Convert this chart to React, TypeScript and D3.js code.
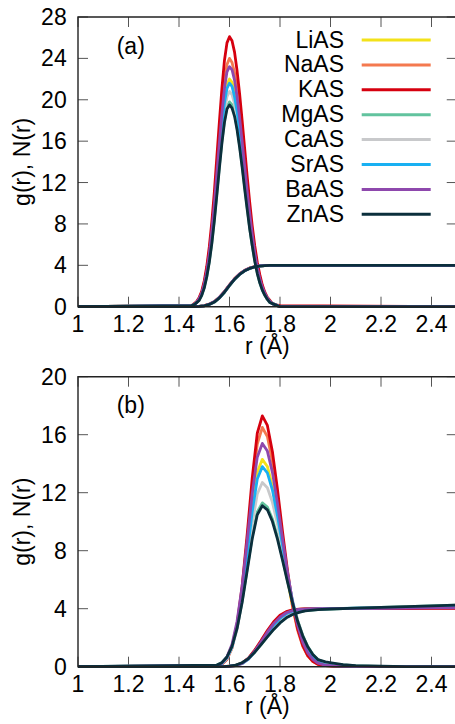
import React from "react";
import * as d3 from "d3";

const SERIES = ["LiAS", "NaAS", "KAS", "MgAS", "CaAS", "SrAS", "BaAS", "ZnAS"];
const COLORS = ["#f3e21a", "#f4794f", "#d6000f", "#62c39e", "#c8c9cb", "#18b0f2", "#8e48ad", "#0b2f3c"];

const X_TICKS = [1, 1.2, 1.4, 1.6, 1.8, 2, 2.2, 2.4];
const Y_TICKS_A = [0, 4, 8, 12, 16, 20, 24, 28];
const Y_TICKS_B = [0, 4, 8, 12, 16, 20];

// ---------- panel (a) ----------
const rA_g = [1.0, 1.45, 1.46, 1.47, 1.48, 1.49, 1.5, 1.51, 1.52, 1.53, 1.54, 1.55, 1.56, 1.57, 1.58, 1.59, 1.6,
  1.61, 1.62, 1.63, 1.64, 1.65, 1.66, 1.67, 1.68, 1.69, 1.7, 1.71, 1.72, 1.73, 1.74, 1.75, 1.76, 1.77, 1.78, 1.8, 2.5];
const gA_Li = [0, 0.1, 0.2, 0.4, 0.7, 1.3, 2.1, 3.3, 4.9, 6.9, 9.4, 12.2, 15.1, 17.8, 20.0, 21.5, 22.0, 21.7, 20.7, 19.3, 17.3, 15.2, 12.9, 10.6, 8.5, 6.6, 5.0, 3.6, 2.6, 1.8, 1.2, 0.8, 0.5, 0.3, 0.2, 0.0, 0];
const gA_Na = [0, 0.1, 0.2, 0.4, 0.8, 1.4, 2.3, 3.6, 5.3, 7.5, 10.2, 13.3, 16.4, 19.4, 21.8, 23.4, 24.0, 23.6, 22.6, 21.0, 18.9, 16.6, 14.1, 11.6, 9.3, 7.2, 5.4, 4.0, 2.8, 1.9, 1.3, 0.8, 0.5, 0.3, 0.2, 0.0, 0];
const gA_K = [0, 0.1, 0.3, 0.5, 0.9, 1.5, 2.5, 3.9, 5.8, 8.2, 11.1, 14.5, 17.9, 21.1, 23.8, 25.5, 26.1, 25.7, 24.6, 22.8, 20.6, 18.0, 15.3, 12.6, 10.1, 7.8, 5.9, 4.3, 3.1, 2.1, 1.4, 0.9, 0.6, 0.3, 0.2, 0.1, 0];
const gA_Mg = [0, 0.1, 0.2, 0.4, 0.7, 1.1, 1.9, 2.9, 4.4, 6.2, 8.5, 11.0, 13.6, 16.0, 18.0, 19.3, 19.8, 19.5, 18.7, 17.3, 15.6, 13.7, 11.6, 9.6, 7.6, 5.9, 4.5, 3.3, 2.3, 1.6, 1.1, 0.7, 0.4, 0.3, 0.2, 0.0, 0];
const gA_Ca = [0, 0.1, 0.2, 0.4, 0.7, 1.2, 2.0, 3.1, 4.6, 6.5, 8.9, 11.5, 14.2, 16.8, 18.9, 20.3, 20.8, 20.5, 19.6, 18.2, 16.4, 14.4, 12.2, 10.0, 8.0, 6.2, 4.7, 3.4, 2.5, 1.7, 1.1, 0.7, 0.5, 0.3, 0.2, 0.0, 0];
const gA_Sr = [0, 0.1, 0.2, 0.4, 0.7, 1.2, 2.0, 3.2, 4.8, 6.8, 9.2, 12.0, 14.8, 17.5, 19.7, 21.1, 21.6, 21.3, 20.3, 18.9, 17.0, 14.9, 12.7, 10.4, 8.3, 6.5, 4.9, 3.6, 2.5, 1.7, 1.2, 0.8, 0.5, 0.3, 0.2, 0.0, 0];
const gA_Ba = [0, 0.1, 0.2, 0.4, 0.8, 1.3, 2.2, 3.4, 5.1, 7.3, 9.9, 12.9, 15.9, 18.7, 21.1, 22.7, 23.2, 22.9, 21.9, 20.3, 18.3, 16.0, 13.6, 11.2, 9.0, 7.0, 5.2, 3.8, 2.7, 1.9, 1.3, 0.8, 0.5, 0.3, 0.2, 0.0, 0];
const gA_Zn = [0, 0.1, 0.2, 0.4, 0.6, 1.1, 1.8, 2.9, 4.3, 6.1, 8.3, 10.8, 13.4, 15.8, 17.8, 19.1, 19.5, 19.2, 18.4, 17.1, 15.4, 13.5, 11.4, 9.4, 7.5, 5.9, 4.4, 3.2, 2.3, 1.6, 1.1, 0.7, 0.4, 0.3, 0.2, 0.0, 0];

const rA_n = [1.0, 1.44, 1.46, 1.48, 1.5, 1.52, 1.54, 1.56, 1.58, 1.6, 1.62, 1.64, 1.66, 1.68, 1.7, 1.72, 1.74, 1.76, 1.8, 2.5];
const nA_Li = [0, 0, 0.01, 0.03, 0.09, 0.23, 0.47, 0.88, 1.43, 2.07, 2.67, 3.14, 3.49, 3.72, 3.86, 3.94, 3.98, 3.99, 4.0, 4.0];
const nA_Na = [0, 0, 0.01, 0.04, 0.1, 0.24, 0.49, 0.9, 1.45, 2.09, 2.69, 3.16, 3.5, 3.73, 3.87, 3.94, 3.98, 3.99, 4.0, 4.0];
const nA_K = [0, 0, 0.01, 0.04, 0.1, 0.25, 0.5, 0.91, 1.46, 2.1, 2.7, 3.17, 3.51, 3.73, 3.87, 3.95, 3.98, 4.0, 4.0, 4.0];
const nA_Mg = [0, 0, 0.01, 0.03, 0.08, 0.21, 0.44, 0.84, 1.39, 2.04, 2.64, 3.12, 3.47, 3.7, 3.85, 3.93, 3.97, 3.99, 4.0, 4.0];
const nA_Ca = [0, 0, 0.01, 0.03, 0.08, 0.22, 0.46, 0.86, 1.41, 2.05, 2.65, 3.13, 3.48, 3.71, 3.85, 3.93, 3.97, 3.99, 4.0, 4.0];
const nA_Sr = [0, 0, 0.01, 0.03, 0.09, 0.23, 0.47, 0.87, 1.42, 2.06, 2.66, 3.13, 3.48, 3.71, 3.86, 3.94, 3.97, 3.99, 4.0, 4.0];
const nA_Ba = [0, 0, 0.01, 0.04, 0.09, 0.24, 0.48, 0.89, 1.44, 2.08, 2.68, 3.15, 3.49, 3.72, 3.86, 3.94, 3.98, 3.99, 4.0, 4.0];
const nA_Zn = [0, 0, 0.01, 0.03, 0.08, 0.22, 0.45, 0.85, 1.4, 2.05, 2.65, 3.12, 3.47, 3.7, 3.85, 3.93, 3.97, 3.99, 4.0, 4.0];

// ---------- panel (b) ----------
const rB_g = [1.0, 1.55, 1.57, 1.59, 1.61, 1.63, 1.65, 1.67, 1.69, 1.71, 1.73, 1.75, 1.77, 1.79, 1.81, 1.83, 1.85,
  1.87, 1.89, 1.91, 1.93, 1.95, 1.98, 2.01, 2.05, 2.1, 2.15, 2.2, 2.3, 2.5];
const gB_Li = [0, 0.08, 0.24, 0.63, 1.44, 2.9, 5.16, 8.05, 11.08, 13.41, 14.3, 13.81, 12.44, 10.45, 8.19, 6.01, 4.1, 2.63, 1.57, 0.89, 0.46, 0.23, 0.09, 0.05, 0.03, 0.02, 0.01, 0, 0, 0];
const gB_Na = [0, 0.05, 0.17, 0.5, 1.27, 2.79, 5.28, 8.7, 12.41, 15.36, 16.5, 15.87, 14.14, 11.67, 8.89, 6.29, 4.11, 2.49, 1.4, 0.73, 0.35, 0.16, 0.08, 0.04, 0.02, 0.01, 0, 0, 0, 0];
const gB_K = [0, 0.05, 0.18, 0.53, 1.33, 2.92, 5.54, 9.12, 13.0, 16.1, 17.3, 16.64, 14.83, 12.23, 9.32, 6.59, 4.31, 2.61, 1.47, 0.76, 0.37, 0.16, 0.08, 0.04, 0.02, 0.01, 0, 0, 0, 0];
const gB_Mg = [0, 0.11, 0.29, 0.68, 1.42, 2.69, 4.51, 6.73, 8.98, 10.67, 11.3, 11.01, 10.19, 8.96, 7.47, 5.92, 4.46, 3.19, 2.16, 1.39, 0.85, 0.5, 0.28, 0.2, 0.12, 0.07, 0.04, 0.02, 0.01, 0];
const gB_Ca = [0, 0.07, 0.21, 0.56, 1.28, 2.58, 4.58, 7.15, 9.84, 11.91, 12.7, 12.34, 11.33, 9.83, 8.05, 6.24, 4.57, 3.16, 2.07, 1.29, 0.76, 0.42, 0.2, 0.12, 0.07, 0.04, 0.02, 0.01, 0, 0];
const gB_Sr = [0, 0.08, 0.23, 0.61, 1.39, 2.8, 4.98, 7.77, 10.7, 12.94, 13.8, 13.37, 12.18, 10.42, 8.37, 6.32, 4.48, 2.98, 1.87, 1.1, 0.61, 0.31, 0.12, 0.07, 0.04, 0.02, 0.01, 0, 0, 0];
const gB_Ba = [0, 0.09, 0.26, 0.68, 1.55, 3.13, 5.55, 8.67, 11.94, 14.45, 15.4, 14.87, 13.4, 11.26, 8.82, 6.47, 4.42, 2.83, 1.69, 0.95, 0.5, 0.25, 0.1, 0.06, 0.03, 0.02, 0.01, 0, 0, 0];
const gB_Zn = [0, 0.11, 0.28, 0.67, 1.4, 2.64, 4.43, 6.62, 8.82, 10.48, 11.1, 10.82, 10.01, 8.8, 7.34, 5.82, 4.38, 3.13, 2.13, 1.37, 0.84, 0.49, 0.33, 0.25, 0.15, 0.08, 0.05, 0.03, 0.01, 0];

const rB_n = [1.0, 1.55, 1.575, 1.6, 1.625, 1.65, 1.675, 1.7, 1.725, 1.75, 1.775, 1.8, 1.825, 1.85, 1.875, 1.9, 1.95, 2.0, 2.1, 2.2, 2.3, 2.4, 2.5];
const nB_Li = [0, 0, 0.01, 0.03, 0.08, 0.23, 0.55, 1.07, 1.7, 2.38, 2.97, 3.42, 3.72, 3.87, 3.95, 3.98, 4.0, 4.01, 4.02, 4.03, 4.04, 4.05, 4.06];
const nB_Na = [0, 0, 0.01, 0.03, 0.09, 0.25, 0.58, 1.12, 1.76, 2.45, 3.05, 3.5, 3.77, 3.9, 3.96, 3.99, 4.0, 4.01, 4.01, 4.02, 4.02, 4.02, 4.02];
const nB_K = [0, 0, 0.01, 0.03, 0.09, 0.26, 0.6, 1.15, 1.8, 2.5, 3.1, 3.55, 3.8, 3.92, 3.97, 3.99, 4.0, 4.0, 4.0, 4.01, 4.01, 4.02, 4.02];
const nB_Mg = [0, 0, 0.01, 0.04, 0.1, 0.26, 0.55, 1.0, 1.53, 2.08, 2.6, 3.05, 3.4, 3.62, 3.77, 3.86, 3.94, 3.98, 4.04, 4.09, 4.14, 4.19, 4.24];
const nB_Ca = [0, 0, 0.01, 0.03, 0.08, 0.21, 0.5, 1.0, 1.6, 2.2, 2.77, 3.22, 3.55, 3.75, 3.87, 3.93, 3.97, 4.0, 4.04, 4.08, 4.11, 4.15, 4.18];
const nB_Sr = [0, 0, 0.01, 0.03, 0.08, 0.22, 0.53, 1.04, 1.65, 2.3, 2.88, 3.33, 3.65, 3.83, 3.92, 3.96, 3.99, 4.01, 4.03, 4.05, 4.07, 4.09, 4.1];
const nB_Ba = [0, 0, 0.01, 0.03, 0.08, 0.23, 0.55, 1.07, 1.7, 2.38, 2.97, 3.42, 3.72, 3.87, 3.95, 3.98, 4.0, 4.01, 4.02, 4.03, 4.04, 4.05, 4.06];
const nB_Zn = [0, 0, 0.01, 0.04, 0.11, 0.27, 0.56, 1.0, 1.52, 2.05, 2.57, 3.02, 3.37, 3.6, 3.75, 3.85, 3.94, 3.98, 4.04, 4.09, 4.14, 4.2, 4.25];

const G_A = [gA_Li, gA_Na, gA_K, gA_Mg, gA_Ca, gA_Sr, gA_Ba, gA_Zn];
const N_A = [nA_Li, nA_Na, nA_K, nA_Mg, nA_Ca, nA_Sr, nA_Ba, nA_Zn];
const G_B = [gB_Li, gB_Na, gB_K, gB_Mg, gB_Ca, gB_Sr, gB_Ba, gB_Zn];
const N_B = [nB_Li, nB_Na, nB_K, nB_Mg, nB_Ca, nB_Sr, nB_Ba, nB_Zn];

const FONT = "'Liberation Sans', Arial, Helvetica, sans-serif";
const FS = 23;
const X0 = 78;
const PX_PER_02 = 50.5;
const X1 = X0 + (1.5 / 0.2) * PX_PER_02;

type PanelProps = {
  id: string;
  top: number;
  bottom: number;
  yMax: number;
  yTicks: number[];
  label: string;
  rg: number[];
  gs: number[][];
  rn: number[];
  ns: number[][];
  legend: boolean;
};

function Panel({ id, top, bottom, yMax, yTicks, label, rg, gs, rn, ns, legend }: PanelProps) {
  const x = d3.scaleLinear().domain([1, 2.5]).range([X0, X1]);
  const y = d3.scaleLinear().domain([0, yMax]).range([bottom, top]);
  const mk = (rs: number[]) =>
    d3
      .line<number>()
      .x((_, i) => x(rs[i]))
      .y((v) => y(v));
  const lineG = mk(rg);
  const lineN = mk(rn);
  const tickLen = 10;
  const tickColor = "#555";
  const legendX1 = 361.7;
  const legendX2 = 430.7;
  const legendY0 = top + 23;
  const legendDy = 24.9;
  return (
    <g>
      <defs>
        <clipPath id={`clip-${id}`}>
          <rect x={X0} y={top - 2} width={X1 - X0} height={bottom - top + 4} />
        </clipPath>
      </defs>
      {X_TICKS.map((t) => (
        <g key={`xt${t}`}>
          <line x1={x(t)} x2={x(t)} y1={bottom} y2={bottom - tickLen} stroke={tickColor} strokeWidth={1} />
          <line x1={x(t)} x2={x(t)} y1={top} y2={top + tickLen} stroke={tickColor} strokeWidth={1} />
          <text x={x(t)} y={bottom + 25.5} textAnchor="middle" fontFamily={FONT} fontSize={FS} fill="#000">
            {String(t)}
          </text>
        </g>
      ))}
      {yTicks.map((t) => (
        <g key={`yt${t}`}>
          <line x1={X0} x2={X0 + tickLen} y1={y(t)} y2={y(t)} stroke={tickColor} strokeWidth={1} />
          <line x1={X1} x2={X1 - tickLen} y1={y(t)} y2={y(t)} stroke={tickColor} strokeWidth={1} />
          <text x={66.7} y={y(t) + 8} textAnchor="end" fontFamily={FONT} fontSize={FS} fill="#000">
            {String(t)}
          </text>
        </g>
      ))}
      <g clipPath={`url(#clip-${id})`} fill="none" strokeLinejoin="round">
        {SERIES.map((s, i) => (
          <g key={s}>
            <path d={lineN(ns[i]) ?? ""} stroke={COLORS[i]} strokeWidth={2.8} />
            <path d={lineG(gs[i]) ?? ""} stroke={COLORS[i]} strokeWidth={2.8} />
          </g>
        ))}
      </g>
      <path d={`M${X1},${top}H${X0}V${bottom}H${X1}`} fill="none" stroke="#222" strokeWidth={1.4} />
      <line x1={X1} x2={X1} y1={top} y2={bottom} stroke="#222" strokeWidth={1.4} />
      <text x={116.7} y={top + 36.5} fontFamily={FONT} fontSize={FS} fill="#000">
        {label}
      </text>
      <text x={(X0 + X1) / 2} y={bottom + 47} textAnchor="middle" fontFamily={FONT} fontSize={FS} fill="#000">
        r (Å)
      </text>
      <text
        transform={`translate(22,${(top + bottom) / 2}) rotate(-90)`}
        textAnchor="middle"
        dominantBaseline="central"
        fontFamily={FONT}
        fontSize={FS}
        fill="#000"
      >
        g(r), N(r)
      </text>
      {legend &&
        SERIES.map((s, i) => (
          <g key={`lg${s}`}>
            <text x={344} y={legendY0 + i * legendDy + 7.5} textAnchor="end" fontFamily={FONT} fontSize={FS} fill="#000">
              {s}
            </text>
            <line
              x1={legendX1}
              x2={legendX2}
              y1={legendY0 + i * legendDy}
              y2={legendY0 + i * legendDy}
              stroke={COLORS[i]}
              strokeWidth={3}
            />
          </g>
        ))}
    </g>
  );
}

export default function App() {
  return (
    <svg width={455} height={724} style={{ position: "absolute", left: 0, top: 0, background: "#fff" }}>
      <rect x={0} y={0} width={455} height={724} fill="#fff" />
      <Panel
        id="a"
        top={17}
        bottom={306.7}
        yMax={28}
        yTicks={Y_TICKS_A}
        label="(a)"
        rg={rA_g}
        gs={G_A}
        rn={rA_n}
        ns={N_A}
        legend={true}
      />
      <Panel
        id="b"
        top={376.7}
        bottom={666.7}
        yMax={20}
        yTicks={Y_TICKS_B}
        label="(b)"
        rg={rB_g}
        gs={G_B}
        rn={rB_n}
        ns={N_B}
        legend={false}
      />
    </svg>
  );
}
